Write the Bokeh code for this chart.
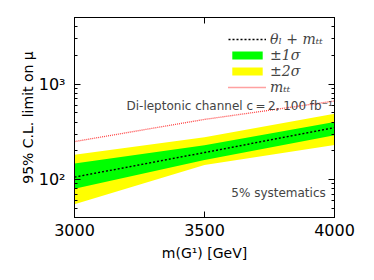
from bokeh.plotting import figure
from bokeh.models import (LogAxis, LinearAxis, FixedTicker, Legend, LegendItem,
                          Label, ColumnDataSource)
from bokeh.embed import file_html
from bokeh.resources import INLINE

# ---- data ----
mass = [3000, 3500, 4000]
mtt_limit = [250, 427, 665]
median = [106, 192, 350]
one_sigma_lo = [80, 160, 292]
one_sigma_hi = [147, 229, 402]
two_sigma_lo = [55, 142, 230]
two_sigma_hi = [182, 278, 490]

x_ticks = [3000, 3500, 4000]
y_ticks = [100, 1000]
y_minor = [40, 50, 60, 70, 80, 90, 200, 300, 400, 500, 600, 700, 800, 900,
           2000, 3000, 4000, 5000]
y_tick_labels = {100: "10²", 1000: "10³"}

src = ColumnDataSource(dict(m=mass, mtt=mtt_limit, med=median,
                            g_lo=one_sigma_lo, g_hi=one_sigma_hi,
                            y_lo=two_sigma_lo, y_hi=two_sigma_hi))

p = figure(width=374, height=280, x_range=(3000, 4000), y_range=(40, 5000),
           y_axis_type="log", output_backend="svg", toolbar_location=None,
           min_border_left=74, min_border_right=40, min_border_top=17,
           min_border_bottom=63)
p.grid.visible = False
p.outline_line_color = "black"
p.outline_line_width = 1
p.background_fill_color = "white"
p.border_fill_color = "white"

r_two = p.varea(x="m", y1="y_lo", y2="y_hi", source=src, fill_color="#ffff00")
r_one = p.varea(x="m", y1="g_lo", y2="g_hi", source=src, fill_color="#00ff00")
r_med = p.line(x="m", y="med", source=src, line_color="black", line_width=1.4,
               line_dash="2 2")
r_mtt = p.line(x="m", y="mtt", source=src, line_color="#ff3030", line_alpha=0.9,
               line_width=1.3, line_dash="1 1")

xt = FixedTicker(ticks=x_ticks, minor_ticks=[])
yt = FixedTicker(ticks=y_ticks, minor_ticks=y_minor)

def style(ax):
    ax.axis_line_color = "black"
    ax.major_tick_in = 6
    ax.major_tick_out = 0
    ax.minor_tick_in = 3
    ax.minor_tick_out = 0
    ax.major_tick_line_color = "black"
    ax.minor_tick_line_color = "black"
    ax.major_label_text_font = "DejaVu Sans"
    ax.major_label_text_font_size = "16px"
    ax.major_label_text_color = "black"
    ax.axis_label_text_font = "DejaVu Sans"
    ax.axis_label_text_font_size = "14px"
    ax.axis_label_text_font_style = "normal"
    ax.axis_label_text_color = "black"

xa = p.xaxis[0]
xa.ticker = xt
style(xa)
xa.major_label_standoff = 6
xa.axis_label = "m(G¹) [GeV]"
xa.axis_label_standoff = 6

ya = p.yaxis[0]
ya.ticker = yt
style(ya)
ya.major_label_overrides = y_tick_labels
ya.major_label_standoff = 9
ya.axis_label = "95% C.L. limit on μ"
ya.axis_label_standoff = 0

top = LinearAxis(ticker=FixedTicker(ticks=x_ticks, minor_ticks=[]))
style(top)
top.major_label_text_font_size = "1px"
top.major_label_text_alpha = 0
top.major_label_standoff = 0
p.add_layout(top, "above")

right = LogAxis(ticker=FixedTicker(ticks=y_ticks, minor_ticks=y_minor))
style(right)
right.major_label_text_font_size = "1px"
right.major_label_text_alpha = 0
right.major_label_standoff = 0
p.add_layout(right, "right")

legend = Legend(items=[
    LegendItem(label="θₗ + mₜₜ", renderers=[r_med]),
    LegendItem(label="±1σ", renderers=[r_one]),
    LegendItem(label="±2σ", renderers=[r_two]),
    LegendItem(label="mₜₜ", renderers=[r_mtt]),
], location=(154, 122), border_line_color=None, background_fill_alpha=0,
    glyph_width=38, glyph_height=10, label_standoff=4, label_height=16,
    label_text_font="DejaVu Serif", label_text_font_style="italic",
    label_text_font_size="14px", spacing=0, padding=0, margin=0)
p.add_layout(legend)

p.add_layout(Label(x=3200, y=586,
                   text="Di-leptonic channel c\u2009=\u20092, 100 fb\u207b\u00b9",
                   text_font="DejaVu Sans", text_font_size="12px",
                   text_baseline="middle", text_align="left"))
p.add_layout(Label(x=3603, y=72, text="5% systematics",
                   text_font="DejaVu Sans", text_font_size="12px",
                   text_baseline="middle", text_align="left"))

open("out.html", "w").write(file_html(p, INLINE))
